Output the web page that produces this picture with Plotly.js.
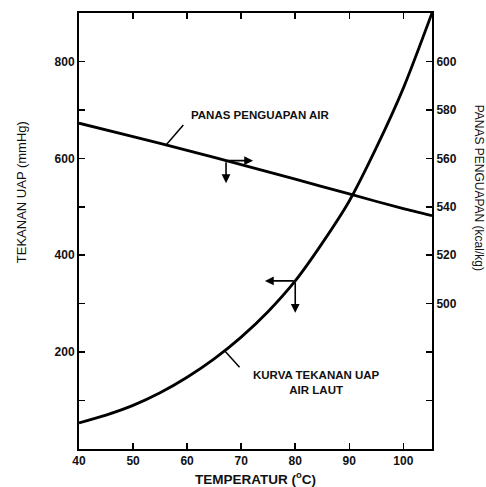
<!DOCTYPE html>
<html>
<head>
<meta charset="utf-8">
<script src="https://cdn.plot.ly/plotly-3.0.1.min.js"></script>
<style>html,body{margin:0;padding:0;background:#fff;}#chart{width:486px;height:487px;}</style>
</head>
<body>
<div id="chart"></div>
<script>
// Temperature (°C) and sea-water vapour pressure (mmHg)
var tempVP = [40, 45, 50, 55, 60, 65, 70, 75, 80, 85, 90, 95, 100, 105.3];
var vaporPressure = [54, 70, 90, 116, 148, 186, 231, 284, 347, 425, 512, 622, 745, 900];
// Temperature (°C) and latent heat of evaporation of water (kcal/kg)
var tempLH = [40, 50, 60, 70, 80, 90, 100, 105.3];
var latentHeat = [574.5, 569, 563.3, 557.4, 551.4, 545.3, 539.2, 536.3];

var xTicks = [40, 50, 60, 70, 80, 90, 100];
var yLeftTicks = [100, 200, 300, 400, 500, 600, 700, 800];
var yLeftLabels = ['', '200', '', '400', '', '600', '', '800'];
var yRightTicks = [460, 480, 500, 520, 540, 560, 580, 600];
var yRightLabels = ['', '', '500', '520', '540', '560', '580', '600'];

function interp(xs, ys, x) {
  for (var i = 0; i < xs.length - 1; i++) {
    if (x >= xs[i] && x <= xs[i + 1]) {
      return ys[i] + (ys[i + 1] - ys[i]) * (x - xs[i]) / (xs[i + 1] - xs[i]);
    }
  }
  return ys[ys.length - 1];
}

var lhArrowT = 67.2;
var lhArrowV = interp(tempLH, latentHeat, lhArrowT);
var vpArrowT = 80;
var vpArrowV = interp(tempVP, vaporPressure, vpArrowT);

var tickFont = {family: 'Liberation Sans, Arial, sans-serif', size: 12, color: '#111', weight: 'bold'};
var lblFont = {family: 'Liberation Sans, Arial, sans-serif', size: 11.5, color: '#111', weight: 'bold'};

var traces = [
  {x: tempVP, y: vaporPressure, type: 'scatter', mode: 'lines',
   line: {color: '#000', width: 2.8, shape: 'spline', smoothing: 0.8}, yaxis: 'y', hoverinfo: 'skip'},
  {x: tempLH, y: latentHeat, type: 'scatter', mode: 'lines',
   line: {color: '#000', width: 2.8, shape: 'spline', smoothing: 0.6}, yaxis: 'y2', hoverinfo: 'skip'}
];

function arrow(x0, y0, x1, y1, yref) {
  return {x: x1, y: y1, ax: x0, ay: y0, xref: 'x', yref: yref, axref: 'x', ayref: yref,
    showarrow: true, arrowhead: 2, arrowsize: 1.1, arrowwidth: 1.6, arrowcolor: '#000', text: ''};
}

var layout = {
  width: 486, height: 487,
  margin: {l: 79, r: 54, t: 13, b: 38},
  paper_bgcolor: '#fff', plot_bgcolor: '#fff',
  showlegend: false,
  xaxis: {range: [40, 105.3], tickvals: xTicks, ticks: 'inside', ticklen: 6, tickwidth: 1.5,
    tickcolor: '#000', showline: true, linecolor: '#000', linewidth: 2, mirror: 'ticks',
    showgrid: false, zeroline: false, tickfont: tickFont},
  yaxis: {range: [0, 900], tickvals: yLeftTicks, ticktext: yLeftLabels, ticks: 'inside', ticklen: 6,
    tickwidth: 1.5, tickcolor: '#000', showline: true, linecolor: '#000', linewidth: 2,
    showgrid: false, zeroline: false, tickfont: tickFont},
  yaxis2: {range: [440, 620], overlaying: 'y', side: 'right', tickvals: yRightTicks, ticktext: yRightLabels,
    ticks: 'inside', ticklen: 6, tickwidth: 1.5, tickcolor: '#000', showline: true, linecolor: '#000',
    linewidth: 2, showgrid: false, zeroline: false, tickfont: tickFont},
  annotations: [
    {text: 'TEKANAN UAP (mmHg)', xref: 'paper', yref: 'paper', x: -0.19, y: 0.59, textangle: -90,
     showarrow: false, font: {family: 'Liberation Sans, Arial, sans-serif', size: 13, color: '#111'}},
    {text: 'PANAS PENGUAPAN (kcal/kg)', xref: 'paper', yref: 'paper', x: 1.158, y: 0.6, textangle: 90,
     showarrow: false, font: {family: 'Liberation Sans, Arial, sans-serif', size: 12, color: '#111'}},
    {text: 'TEMPERATUR (<sup>o</sup>C)', xref: 'paper', yref: 'paper', x: 0.5, y: -0.066, yanchor: 'middle',
     showarrow: false, font: {family: 'Liberation Sans, Arial, sans-serif', size: 13.5, color: '#111', weight: 'bold'}},
    {text: 'PANAS PENGUAPAN AIR', xref: 'x', yref: 'y2', x: 73.5, y: 577.9, showarrow: false, font: lblFont},
    {text: 'KURVA TEKANAN UAP<br>AIR LAUT', xref: 'x', yref: 'y', x: 83.9, y: 138, showarrow: false,
     font: lblFont, align: 'center'},
    arrow(lhArrowT, lhArrowV, lhArrowT + 5, lhArrowV, 'y2'),
    arrow(lhArrowT, lhArrowV, lhArrowT, lhArrowV - 9.3, 'y2'),
    arrow(vpArrowT, vpArrowV, vpArrowT - 5.6, vpArrowV, 'y'),
    arrow(vpArrowT, vpArrowV, vpArrowT, vpArrowV - 66, 'y')
  ],
  shapes: [
    {type: 'line', xref: 'x', yref: 'y2', x0: 56.1, y0: interp(tempLH, latentHeat, 56.1), x1: 59.3, y1: 573.8,
     line: {color: '#000', width: 1.5}},
    {type: 'line', xref: 'x', yref: 'y', x0: 66.9, y0: interp(tempVP, vaporPressure, 66.9), x1: 69.7, y1: 168.7,
     line: {color: '#000', width: 1.5}}
  ]
};

Plotly.newPlot('chart', traces, layout, {staticPlot: true, displayModeBar: false});
</script>
</body>
</html>
